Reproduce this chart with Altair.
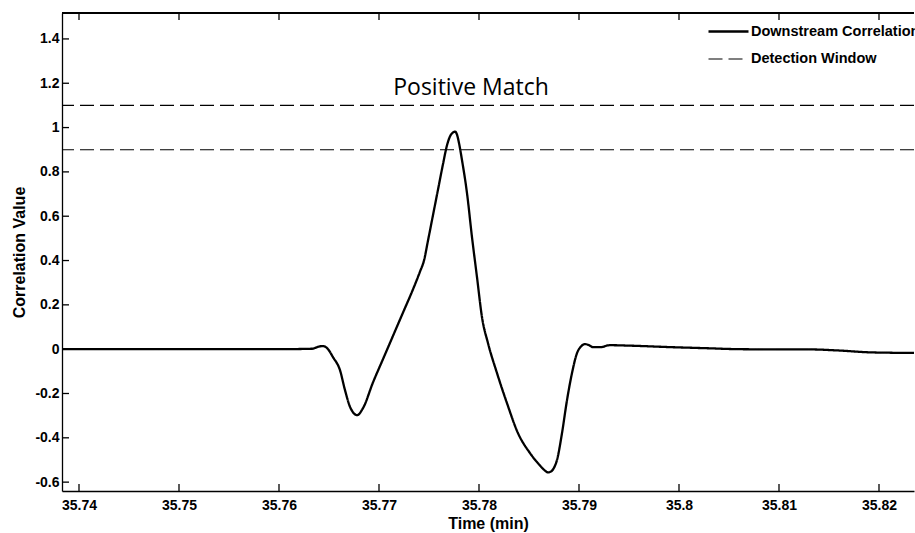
import altair as alt
import pandas as pd

# ---- data ----
time_min = [35.7383, 35.745, 35.750, 35.755, 35.760, 35.7633, 35.7640, 35.7644, 35.7648, 35.7654,
            35.7661, 35.7666, 35.7671, 35.7675, 35.7678, 35.7684, 35.7694, 35.7704, 35.7714, 35.7724,
            35.7734, 35.7741, 35.7745, 35.7749, 35.7754, 35.7759, 35.7764, 35.7768, 35.7771, 35.7774,
            35.7776, 35.7778, 35.7780, 35.7783, 35.7788, 35.7793, 35.7798, 35.7803, 35.7809,
            35.7818, 35.7828, 35.7839, 35.7851, 35.7860, 35.7866, 35.7869, 35.7872, 35.7875, 35.7878,
            35.7883, 35.7888, 35.7893, 35.7898, 35.7902, 35.7906, 35.7910, 35.7914, 35.7921, 35.7931,
            35.7950, 35.7993, 35.8030, 35.8059, 35.8100, 35.8129, 35.8160, 35.8189, 35.8210, 35.8235]
correlation = [0.0, 0.0, 0.0, 0.0, 0.0, 0.002, 0.012, 0.014, 0.005, -0.036,
               -0.095, -0.185, -0.26, -0.29, -0.298, -0.266, -0.15, -0.045, 0.06, 0.165,
               0.27, 0.35, 0.40, 0.49, 0.605, 0.72, 0.835, 0.92, 0.96, 0.978,
               0.982, 0.968, 0.93, 0.853, 0.704, 0.505, 0.325, 0.144, 0.027,
               -0.108, -0.244, -0.379, -0.469, -0.52, -0.548, -0.556, -0.552, -0.535, -0.50,
               -0.379, -0.23, -0.108, -0.018, 0.012, 0.023, 0.018, 0.009, 0.009, 0.018,
               0.016, 0.009, 0.004, 0.0, -0.001, -0.001, -0.006, -0.014, -0.016, -0.017]
window_levels = [1.1, 0.9]
series_names = ["Downstream Correlation", "Detection Window"]
x_ticks = [35.74, 35.75, 35.76, 35.77, 35.78, 35.79, 35.80, 35.81, 35.82]
y_ticks = [-0.6, -0.4, -0.2, 0, 0.2, 0.4, 0.6, 0.8, 1, 1.2, 1.4]
x_domain = [35.7383, 35.8235]
y_domain = [-0.64, 1.517]
annot_text = ["Positive Match"]
annot_x = [35.7792]
annot_y = [1.146]

W, H = 852, 478
FONT = "Liberation Sans"

line_df = pd.DataFrame({"x": time_min, "y": correlation, "series": series_names[0]})
win_df = pd.DataFrame({"y": window_levels, "series": series_names[1]})
xt_df = pd.DataFrame({"xt": x_ticks})
yt_df = pd.DataFrame({"yt": y_ticks})
ann_df = pd.DataFrame({"x": annot_x, "y": annot_y, "label": annot_text})

x_axis = alt.Axis(values=x_ticks, labelExpr="'' + datum.value", ticks=False, grid=False,
                  domainColor="black", domainWidth=1.3, labelPadding=7, titlePadding=3,
                  title="Time (min)")
y_axis = alt.Axis(values=y_ticks, labelExpr="'' + datum.value", ticks=False, grid=False,
                  domainColor="black", domainWidth=1.3, labelPadding=3, titlePadding=7,
                  title="Correlation Value")
xs = alt.Scale(domain=x_domain, nice=False, zero=False)
ys = alt.Scale(domain=y_domain, nice=False, zero=False)

leg = alt.Legend(title=None, orient="none", legendX=645, legendY=-3, symbolType="stroke",
                 symbolSize=1600, symbolStrokeColor="black", labelFont=FONT, labelFontSize=14.5,
                 labelFontWeight="bold", labelColor="black", rowPadding=-4, labelOffset=1,
                 labelLimit=0)
dash_enc = alt.StrokeDash("series:N", scale=alt.Scale(domain=series_names, range=[[1, 0], [14, 6]]),
                          legend=leg)
width_enc = alt.StrokeWidth("series:N", scale=alt.Scale(domain=series_names, range=[2.3, 1.2]),
                            legend=leg)

curve = alt.Chart(line_df).mark_line(color="black", interpolate="monotone").encode(
    x=alt.X("x:Q", scale=xs, axis=x_axis), y=alt.Y("y:Q", scale=ys, axis=y_axis),
    strokeDash=dash_enc, strokeWidth=width_enc)
windows = alt.Chart(win_df).mark_rule(color="black").encode(
    y=alt.Y("y:Q", scale=ys, axis=y_axis), strokeDash=dash_enc, strokeWidth=width_enc)

# inward ticks (MATLAB style) and top frame line
tick_b = alt.Chart(xt_df).mark_rule(color="black", strokeWidth=1.3).encode(
    x=alt.X("xt:Q", scale=xs, axis=x_axis), y=alt.value(H), y2=alt.value(H - 7))
tick_t = alt.Chart(xt_df).mark_rule(color="black", strokeWidth=1.3).encode(
    x=alt.X("xt:Q", scale=xs, axis=x_axis), y=alt.value(0), y2=alt.value(7))
tick_l = alt.Chart(yt_df).mark_rule(color="black", strokeWidth=1.3).encode(
    y=alt.Y("yt:Q", scale=ys, axis=y_axis), x=alt.value(0), x2=alt.value(7))
top_frame = alt.Chart(yt_df).mark_rule(color="black", strokeWidth=1.3).encode(
    y=alt.value(0), x=alt.value(0), x2=alt.value(W))

annot = alt.Chart(ann_df).mark_text(font="Open Sans", fontSize=23, color="black",
                                    baseline="alphabetic", align="center").encode(
    x=alt.X("x:Q", scale=xs, axis=x_axis), y=alt.Y("y:Q", scale=ys, axis=y_axis), text="label:N")

chart = alt.layer(tick_b, tick_t, tick_l, top_frame, curve, windows, annot).properties(
    width=W, height=H,
    autosize=alt.AutoSizeParams(type="none"),
    padding={"left": 62, "top": 13, "right": 1, "bottom": 42},
    background="white",
).configure_view(stroke=None).configure_axis(
    labelFont=FONT, labelFontSize=14, labelFontWeight="bold", labelColor="black",
    titleFont=FONT, titleFontSize=16, titleFontWeight="bold", titleColor="black",
)

chart.save("out.html", embed_options={"renderer": "svg", "actions": False})
